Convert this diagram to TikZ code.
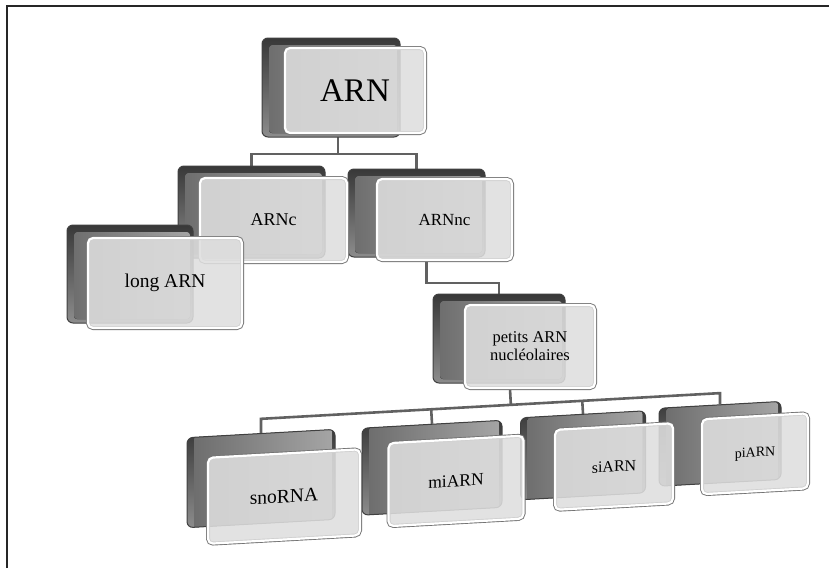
\documentclass[tikz,border=0pt]{standalone}
\usepackage{fontspec}
\setmainfont{Liberation Serif}
\usetikzlibrary{calc}
\pgfdeclarelayer{background}
\pgfsetlayers{background,main}
\tikzset{
  sz/.style args={#1/#2}{minimum width=#1pt, minimum height=#2pt},
  fs/.style={font=\fontsize{#1}{#1}\selectfont},
  backbox/.style={rectangle, rounded corners=6pt, inner sep=0pt,
    draw=black!75, line width=1pt, top color=black!78, bottom color=black!45,
    path picture={\fill[left color=black!58, right color=black!35, rounded corners=3pt]
      ([shift={(7pt,-7pt)}]path picture bounding box.north west) rectangle
      ([shift={(-3pt,4pt)}]path picture bounding box.south east);}},
  frontbox/.style={rectangle, rounded corners=5pt, inner sep=2pt, align=center,
    fill=black!13, fill opacity=0.88, text opacity=1, text=black,
    draw=white, line width=2.2pt, preaction={draw=black!55, line width=4pt}},
  conn/.style={draw=black!62, line width=2.6pt},
  frameline/.style={draw=black!85, line width=1.3pt}
}
\begin{document}
\begin{tikzpicture}[x=1pt,y=-1pt]
\useasboundingbox (0,0) rectangle (829,568);
\draw[frameline] (7,568) -- (7,6) -- (829,6);
% back boxes (top part)
\node[backbox, sz=138/99] (arnb) at (331,87.5) {};
\node[backbox, sz=147/92] (arncb) at (251.5,212) {};
\node[backbox, sz=137/88] (arnncb) at (416.5,213) {};
\node[backbox, sz=126/98] (longb) at (130,274) {};
\node[backbox, sz=132/89] (petitsb) at (499,338.5) {};
% front boxes (top part)
\node[frontbox, sz=140/85, fs=33] (arn) at (355,90.5) {ARN};
\node[frontbox, sz=147/84, fs=18] (arnc) at (273.5,220) {ARNc};
\node[frontbox, sz=154/90, fs=19.5] (long) at (165,283) {long ARN};
\node[frontbox, sz=135/81, fs=17] (arnnc) at (444.5,219.5) {ARNnc};
\node[frontbox, sz=130/83, font=\fontsize{16.5}{18}\selectfont] (petits) at (530,346.5) {petits ARN\\nucléolaires};
% bottom row, slightly slanted
\begin{scope}[shift={(490,470)}, yslant=0.056]
  \coordinate (busL) at (-229,-64);
  \coordinate (busR) at (230,-64);
  \node[backbox, transform shape, sz=148/90] (snob) at (-229,-4.3) {};
  \node[backbox, transform shape, sz=140/87] (mib) at (-58,-5.5) {};
  \node[backbox, transform shape, sz=125/82] (sib) at (93,-9.5) {};
  \node[backbox, transform shape, sz=122/78] (pib) at (230,-13.3) {};
  \node[frontbox, transform shape, sz=152/86, fs=19.5] (sno) at (-206,15) {snoRNA};
  \node[frontbox, transform shape, sz=135/83, fs=17.5] (mi) at (-34,9) {miARN};
  \node[frontbox, transform shape, sz=118/80, fs=16] (si) at (124,3.5) {siARN};
  \node[frontbox, transform shape, sz=106/75, fs=14] (pi) at (265,-1.4) {piARN};
\end{scope}
\coordinate (pdrop) at ([xshift=-20pt]petits.south);
\begin{pgfonlayer}{background}
  \draw[conn] ([xshift=-17pt]arn.south) -- ++(0,20) -| (arncb.north);
  \draw[conn] ([xshift=-17pt]arn.south) -- ++(0,20) -| (arnncb.north);
  \draw[conn] ([xshift=-18pt]arnnc.south) -- ++(0,22) -| (petitsb.north);
  \draw[conn] (snob.north) -- (busL) -- (busR) -- (pib.north);
  \draw[conn] (mib.north) -- ($(busL)!(mib.north)!(busR)$);
  \draw[conn] (sib.north) -- ($(busL)!(sib.north)!(busR)$);
  \draw[conn] (pdrop) -- ($(busL)!(pdrop)!(busR)$);
\end{pgfonlayer}
\end{tikzpicture}
\end{document}
